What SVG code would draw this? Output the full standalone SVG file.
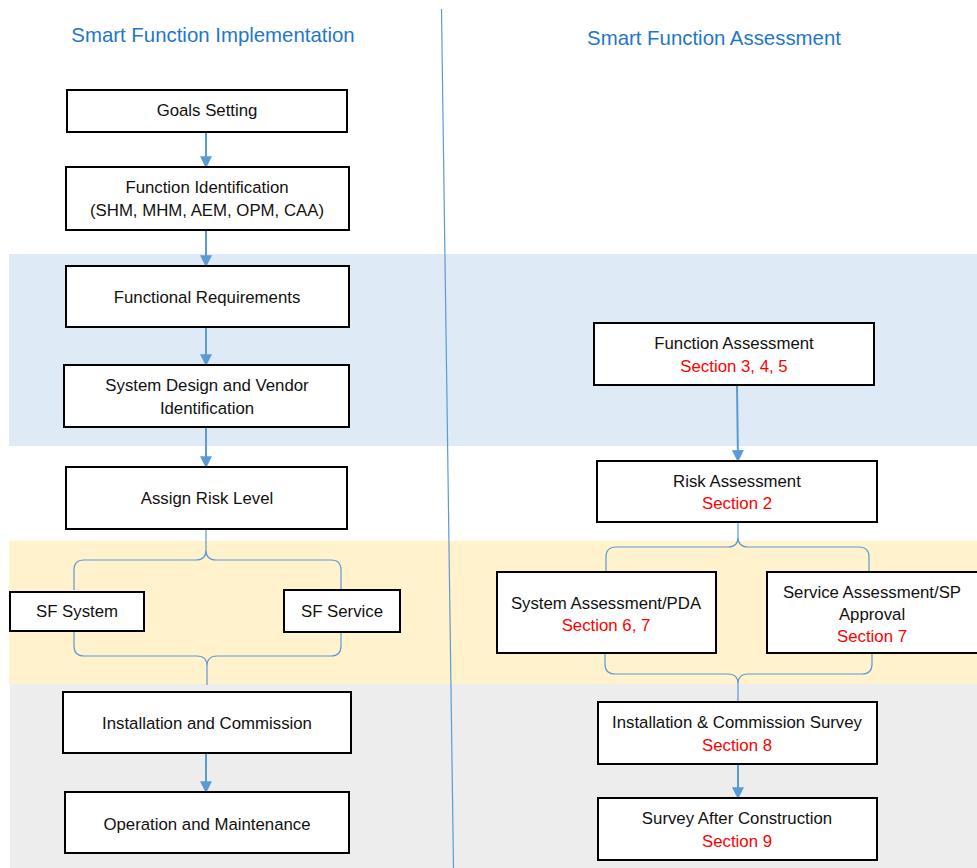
<svg xmlns="http://www.w3.org/2000/svg" width="977" height="868" viewBox="0 0 977 868">
<defs>
<style>
.box{fill:#fff;stroke:#000;stroke-width:2}
.t{font-family:"Liberation Sans",Arial,sans-serif;font-size:16.8px;fill:#111;text-anchor:middle}
.r{fill:#ff0000}
.title{font-family:"Liberation Sans",Arial,sans-serif;font-size:20.4px;fill:#1f77c9;text-anchor:middle}
.arr{stroke:#5b9bd5;stroke-width:2;fill:none;marker-end:url(#ah)}
.brace{stroke:#5b9bd5;stroke-width:1.2;fill:none}
</style>
<marker id="ah" viewBox="0 0 10 10" refX="9" refY="5" markerWidth="6" markerHeight="6" orient="auto" markerUnits="strokeWidth">
<path d="M0,0 L10,5 L0,10 Z" fill="#5b9bd5"/>
</marker>
</defs>
<rect width="977" height="868" fill="#fff"/>
<g id="bands">
<rect x="9" y="254" width="968" height="192" fill="#deeaf6"/>
<rect x="9" y="541" width="968" height="143" fill="#fff2cc"/>
<rect x="10" y="684" width="967" height="184" fill="#ededed"/>
</g>
<line x1="441.5" y1="9" x2="453.5" y2="868" stroke="#5b9bd5" stroke-width="1.2"/>
<text class="title" x="213" y="42">Smart Function Implementation</text>
<text class="title" x="714" y="45">Smart Function Assessment</text>
<g id="connectors">
<line class="arr" x1="206" y1="132" x2="206" y2="167"/>
<line class="arr" x1="206" y1="230" x2="206" y2="266"/>
<line class="arr" x1="206" y1="327" x2="206" y2="365"/>
<line class="arr" x1="206" y1="427" x2="206" y2="467"/>
<line class="arr" x1="206" y1="753" x2="206" y2="792"/>
<line class="arr" x1="737" y1="385" x2="738" y2="461"/>
<line class="arr" x1="738" y1="764" x2="738" y2="798"/>
<path class="brace" d="M74,590 V570 Q74,560 84,560 H196 Q206,560 206,550 V529 M206,550 Q206,560 216,560 H331 Q341,560 341,570 V590"/>
<path class="brace" d="M74,628 V646 Q74,656 84,656 H197 Q207,656 207,666 V685 M207,666 Q207,656 217,656 H331 Q341,656 341,646 V631"/>
<path class="brace" d="M606,572 V557 Q606,547 616,547 H728 Q738,547 738,537 V522 M738,537 Q738,547 748,547 H859 Q869,547 869,557 V572"/>
<path class="brace" d="M605,647 V664 Q605,674 615,674 H728 Q738,674 738,684 V702 M738,684 Q738,674 748,674 H862 Q872,674 872,664 V647"/>
</g>
<g id="n-goals"><rect class="box" x="67" y="90" width="280" height="42"/><text class="t" x="207" y="116">Goals Setting</text></g>
<g id="n-funcid"><rect class="box" x="66" y="167" width="283" height="63"/><text class="t" x="207" y="193">Function Identification</text><text class="t" x="207" y="216">(SHM, MHM, AEM, OPM, CAA)</text></g>
<g id="n-funcreq"><rect class="box" x="66" y="266" width="283" height="61"/><text class="t" x="207" y="303">Functional Requirements</text></g>
<g id="n-sysdesign"><rect class="box" x="64" y="365" width="285" height="62"/><text class="t" x="207" y="391">System Design and Vendor</text><text class="t" x="207" y="414">Identification</text></g>
<g id="n-risk"><rect class="box" x="66" y="467" width="281" height="62"/><text class="t" x="207" y="504">Assign Risk Level</text></g>
<g id="n-sfsys"><rect class="box" x="10" y="592" width="134" height="39"/><text class="t" x="77" y="617">SF System</text></g>
<g id="n-sfserv"><rect class="box" x="284" y="590" width="116" height="42"/><text class="t" x="342" y="617">SF Service</text></g>
<g id="n-install"><rect class="box" x="63" y="692" width="288" height="61"/><text class="t" x="207" y="729">Installation and Commission</text></g>
<g id="n-operation"><rect class="box" x="65" y="792" width="284" height="61"/><text class="t" x="207" y="830">Operation and Maintenance</text></g>
<g id="n-funcassess"><rect class="box" x="594" y="323" width="280" height="62"/><text class="t" x="734" y="349">Function Assessment</text><text class="t r" x="734" y="372">Section 3, 4, 5</text></g>
<g id="n-riskassess"><rect class="box" x="597" y="461" width="280" height="61"/><text class="t" x="737" y="487">Risk Assessment</text><text class="t r" x="737" y="509">Section 2</text></g>
<g id="n-sysassess"><rect class="box" x="497" y="572" width="219" height="81"/><text class="t" x="606" y="609">System Assessment/PDA</text><text class="t r" x="606" y="631">Section 6, 7</text></g>
<g id="n-servassess"><rect class="box" x="767" y="572" width="212" height="81"/><text class="t" x="872" y="598">Service Assessment/SP</text><text class="t" x="872" y="620">Approval</text><text class="t r" x="872" y="642">Section 7</text></g>
<g id="n-survey"><rect class="box" x="598" y="702" width="279" height="62"/><text class="t" x="737" y="728">Installation &amp; Commission Survey</text><text class="t r" x="737" y="751">Section 8</text></g>
<g id="n-after"><rect class="box" x="598" y="798" width="279" height="62"/><text class="t" x="737" y="824">Survey After Construction</text><text class="t r" x="737" y="847">Section 9</text></g>
</svg>
